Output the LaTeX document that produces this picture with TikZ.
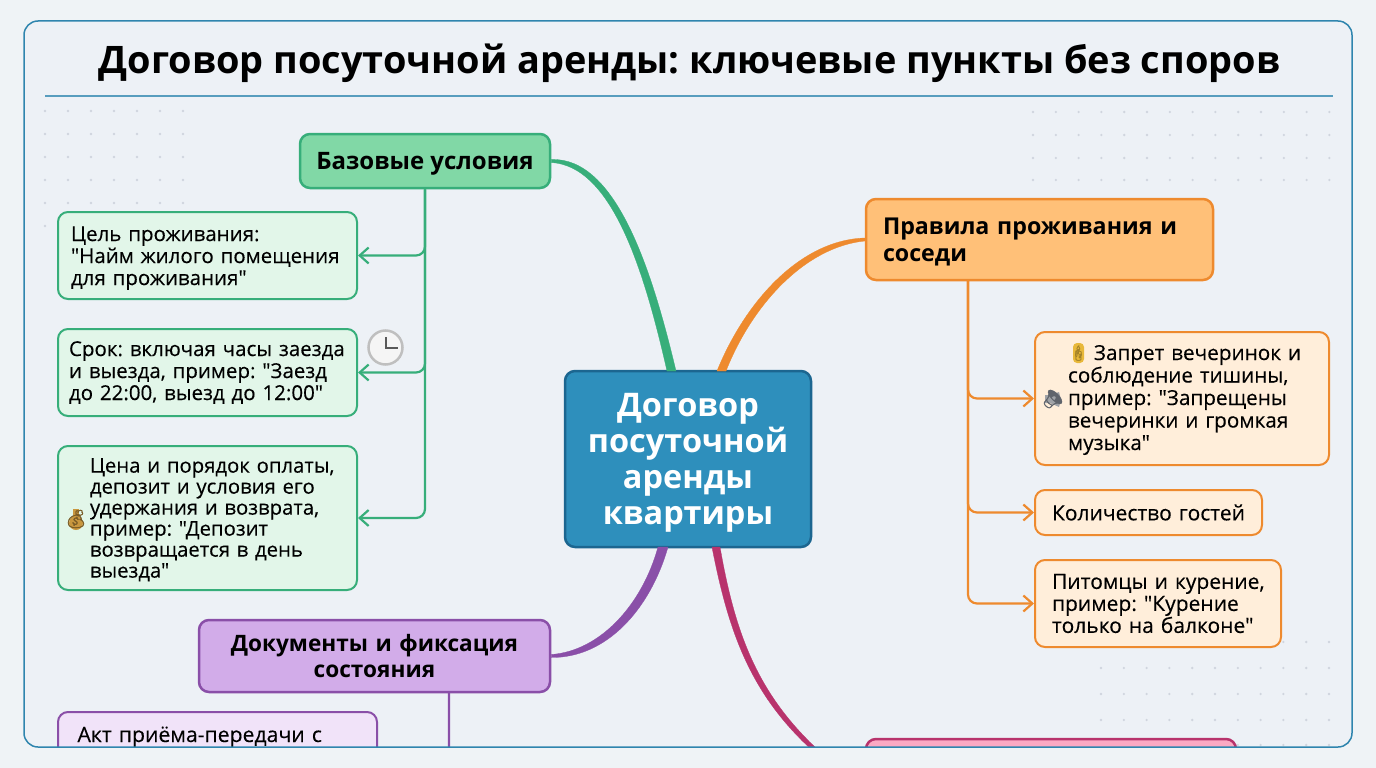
\documentclass[tikz,border=0pt]{standalone}
\usepackage{fontspec}
\setmainfont{Open Sans}[Ligatures=TeXOff]
\newfontfamily\leaffont{Open Sans}[Ligatures=TeXOff,FakeBold=0.25]
\newfontfamily\emojifont{Noto Emoji}[FakeBold=1.2]
\usetikzlibrary{arrows.meta}
\frenchspacing

\definecolor{pagebg}{HTML}{EFF3F6}
\definecolor{framebg}{HTML}{EDF1F6}
\definecolor{frameline}{HTML}{2F85AE}
\definecolor{dotgrey}{HTML}{D0D5DE}
\definecolor{hubfill}{HTML}{2E8FBC}
\definecolor{hubline}{HTML}{1C6690}
\definecolor{greenline}{HTML}{37AE7A}
\definecolor{greenfill}{HTML}{81D8A6}
\definecolor{greenleaf}{HTML}{E2F6E9}
\definecolor{orangeline}{HTML}{EE8A2E}
\definecolor{orangefill}{HTML}{FFC078}
\definecolor{orangeleaf}{HTML}{FFEEDA}
\definecolor{purpleline}{HTML}{8A4FA8}
\definecolor{purplefill}{HTML}{D2ACE9}
\definecolor{purpleleaf}{HTML}{F1E3F9}
\definecolor{pinkline}{HTML}{B8336C}
\definecolor{pinkfill}{HTML}{FBA9C3}
\definecolor{baggold}{HTML}{C9973F}
\definecolor{candlegold}{HTML}{E8B83A}
\definecolor{speakergrey}{HTML}{5F646C}

\tikzset{
  box/.style={draw, rounded corners=10pt, line width=2pt, inner ysep=0pt, anchor=center},
  lift/.style={execute at begin node={\rule{0pt}{#1}}},
  mainbox/.style={box, line width=2.5pt, font=\fontsize{23.2}{26.5}\selectfont\bfseries},
  leafbox/.style={box, align=left, font=\leaffont\fontsize{20.5}{22}\selectfont},
  twig/.style={->, line width=2.2pt, rounded corners=9pt, >={Straight Barb[length=9pt,width=16pt]}},
  taper/.style={line width=0.3pt},
  emoji/.style={inner sep=0pt, font=\fontsize{18}{18}\selectfont\emojifont}
}

\begin{document}
\begin{tikzpicture}[x=1pt, y=-1pt]
\useasboundingbox (0,0) rectangle (1376,768);
\fill [pagebg] (0,0) rectangle (1376,768);
\fill [framebg, rounded corners=14pt] (24,21) rectangle (1352,747);

\begin{scope}
\clip [rounded corners=14pt] (24,21) rectangle (1352,747);

\foreach \x in {45,68,...,183} \foreach \y in {111,134,...,248} \fill [dotgrey] (\x,\y) circle [radius=1.3];
\foreach \x in {0,...,13} \foreach \y in {112,135,158,180} \fill [dotgrey] (1033+22.8*\x,\y) circle [radius=1.3];
\foreach \x in {0,...,10} \foreach \y in {642,668,694,720,745} \fill [dotgrey] (1101+22.8*\x,\y) circle [radius=1.3];

\node [box, fill=hubfill, draw=hubline, text=white, minimum width=246pt, minimum height=176pt, text width=230pt, align=center, line width=2.5pt, lift=31pt, font=\fontsize{32.5}{36}\selectfont\bfseries] (hub) at (688,459) {Договор\\посуточной\\аренды\\квартиры};

\node [mainbox, fill=greenfill, draw=greenline, minimum width=250pt, minimum height=54pt, lift=23pt, font=\fontsize{24}{27}\selectfont\bfseries] (base) at (425,161) {Базовые условия};
\node [leafbox, fill=greenleaf, draw=greenline, minimum width=299pt, minimum height=87pt, text width=273pt, lift=20pt] (goal) at (207.5,255.5) {Цель проживания:\\"Найм жилого помещения\\для проживания"};
\node [leafbox, fill=greenleaf, draw=greenline, minimum width=299pt, minimum height=87pt, text width=277pt] (term) at (207.5,372.5) {Срок: включая часы заезда\\и выезда, пример: "Заезд\\до 22:00, выезд до 12:00"};
\node [leafbox, fill=greenleaf, draw=greenline, minimum width=299pt, minimum height=144pt, text width=235pt, lift=18pt, font=\leaffont\fontsize{20.3}{21}\selectfont] (price) at (207.5,518) {\mbox{Цена и порядок оплаты,}\\депозит и условия его\\удержания и возврата,\\пример: "Депозит\\возвращается в день\\выезда"};

\node [mainbox, fill=orangefill, draw=orangeline, minimum width=347pt, minimum height=81pt, align=left, text width=313pt, lift=22pt] (rules) at (1039.5,239.5) {Правила проживания и\\соседи};
\node [leafbox, fill=orangeleaf, draw=orangeline, minimum width=294pt, minimum height=133pt, text width=228pt, lift=18pt, font=\leaffont\fontsize{20.7}{22.5}\selectfont] (party) at (1182,398.5) {\mbox{\hspace*{26pt}Запрет вечеринок и}\\соблюдение тишины,\\пример: "Запрещены\\вечеринки и громкая\\музыка"};
\node [leafbox, fill=orangeleaf, draw=orangeline, minimum width=227pt, minimum height=45pt, text width=193pt, font=\leaffont\fontsize{21}{22}\selectfont] (guests) at (1148.5,512.5) {\mbox{Количество гостей}};
\node [leafbox, fill=orangeleaf, draw=orangeline, minimum width=246pt, minimum height=87pt, text width=212pt, font=\leaffont\fontsize{21}{22}\selectfont] (pets) at (1158,603.5) {\mbox{Питомцы и курение,}\\пример: "Курение\\только на балконе"};

\node [mainbox, fill=purplefill, draw=purpleline, minimum width=351pt, minimum height=72pt, text width=320pt, align=center, font=\fontsize{22.6}{26}\selectfont\bfseries] (docs) at (374.5,656) {Документы и фиксация\\состояния};
\node [leafbox, fill=purpleleaf, draw=purpleline, minimum width=319pt, minimum height=110pt, text width=280pt, text height=30pt, text depth=80pt, font=\leaffont\fontsize{21.2}{22}\selectfont] (act) at (217.5,767) {Акт приёма-передачи с};

\node [mainbox, fill=pinkfill, draw=pinkline, minimum width=370pt, minimum height=100pt] (money) at (1051,789) {};

\coordinate (g1) at (667,371);
\coordinate (g2) at (676,371);
\coordinate (o1) at (717,371);
\coordinate (o2) at (726,371);
\coordinate (p1) at (658,547);
\coordinate (p2) at (668,547);
\coordinate (r1) at (712,547);
\coordinate (r2) at (720,547);
\coordinate (rulestrunk) at (968,280);
\coordinate (docstrunk) at (449,692);

\draw [taper, draw=greenline, fill=greenline] ([yshift=1.5pt]base.east) .. controls (616,157) and (652,270) .. (g2) -- (g1) .. controls (644,270) and (612,166) .. ([yshift=-1.5pt]base.east) -- cycle;
\draw [taper, draw=orangeline, fill=orangeline] ([yshift=1.5pt]rules.west) .. controls (800,240) and (745,302) .. (o1) -- (o2) .. controls (752,305) and (805,247) .. ([yshift=-1.5pt]rules.west) -- cycle;
\draw [taper, draw=purpleline, fill=purpleline] ([yshift=-1.5pt]docs.east) .. controls (606,658) and (650,610) .. (p2) -- (p1) .. controls (642,605) and (600,651) .. ([yshift=1.5pt]docs.east) -- cycle;
\draw [taper, draw=pinkline, fill=pinkline] ([yshift=-1.5pt]money.west) .. controls (760,722) and (732,650) .. (r1) -- (r2) .. controls (738,650) and (766,718) .. ([yshift=1.5pt]money.west) -- cycle;

\draw [twig, draw=greenline] (base.south) |- (goal.east);
\draw [twig, draw=greenline] (base.south) |- (term.east);
\draw [twig, draw=greenline] (base.south) |- (price.east);

\draw [twig, draw=orangeline] (rulestrunk) |- (party.west);
\draw [twig, draw=orangeline] (rulestrunk) |- (guests.west);
\draw [twig, draw=orangeline] (rulestrunk) |- (pets.west);

\draw [twig, draw=purpleline] (docstrunk) |- (act.east);

\fill [baggold] (76,523) circle [radius=7];
\fill [baggold] (73,509) rectangle (79,517);
\node [emoji, text=baggold!60!black] (bag) at (76,519) {💰};
\fill [speakergrey!60!white] (1045,395) -- (1050,395) -- (1059,392) -- (1061,400) -- (1059,407) -- (1050,403) -- (1045,403) -- cycle;
\node [emoji, text=speakergrey] (speaker) at (1053,399) {🔈};
\fill [candlegold, rounded corners=4pt] (1073,343) rectangle (1084,363);
\node [emoji, text=candlegold!70!black, font=\fontsize{15}{15}\selectfont\emojifont] (candle) at (1078.5,353) {🕯};

\draw [fill=white!96!black, draw=black!25!white, line width=2.5pt] (385.5,347.5) circle [radius=17];
\draw [black!65!white, line width=1.6pt] (386,337) -- (386,348) -- (398,348);
\end{scope}

\draw [frameline, line width=1.5pt, rounded corners=14pt] (24,21) rectangle (1352,747);
\draw [frameline!80!white, line width=1.5pt] (45,96) -- (1333,96);
\node [font=\fontsize{37.9}{44}\selectfont\bfseries, text=black] (title) at (689.5,63) {Договор посуточной аренды: ключевые пункты без споров};
\end{tikzpicture}
\end{document}
